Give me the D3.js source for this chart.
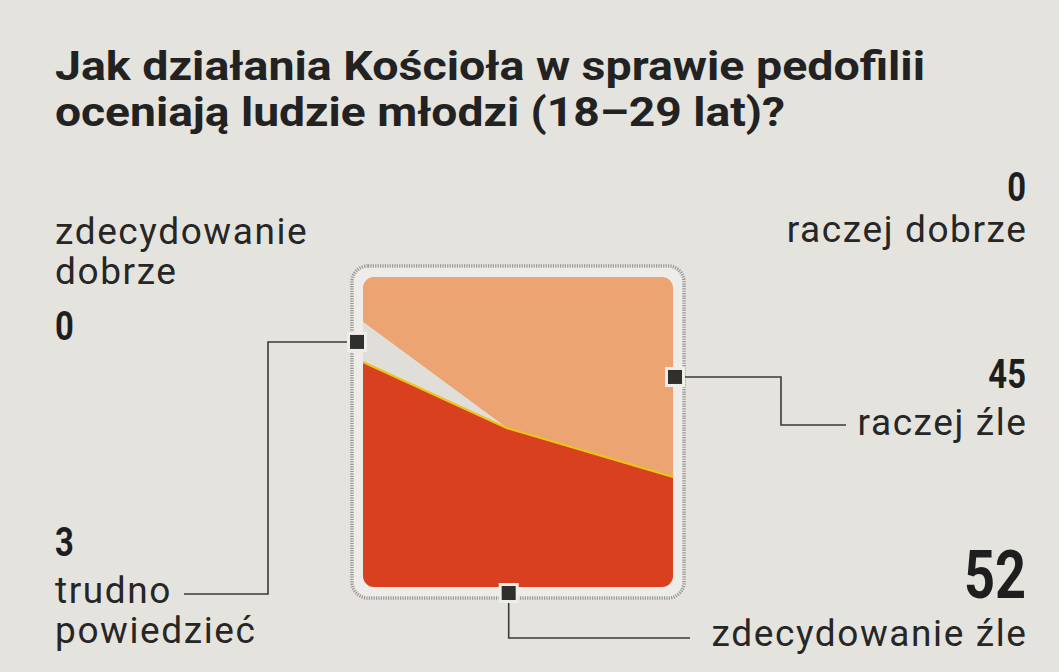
<!DOCTYPE html>
<html>
<head>
<meta charset="utf-8">
<script src="https://cdn.jsdelivr.net/npm/d3@7"></script>
<style>
  html, body { margin: 0; padding: 0; background: #e5e3de; }
  svg { display: block; }
</style>
</head>
<body>
<svg id="mainsvg" width="1059" height="672"></svg>
<script>
// dane: odsetki odpowiedzi
const categories = ["zdecydowanie dobrze", "raczej dobrze", "raczej źle", "zdecydowanie źle", "trudno powiedzieć"]
const values = [0, 0, 45, 52, 3]
const titleLines = ["Jak działania Kościoła w sprawie pedofilii", "oceniają ludzie młodzi (18–29 lat)?"]

const colors = {red: '#d8401f', orange: '#eba472', grey: '#dfded9', yellow: '#e9c51c'}

const svg = d3.select('#mainsvg')

// kwadrat z udziałami
let sq = {x0: 363, y0: 277, size: 310}
let x = d3.scaleLinear().domain([0, 1]).range([sq.x0, sq.x0 + sq.size])
let y = d3.scaleLinear().domain([0, 1]).range([sq.y0 + sq.size, sq.y0])

let share = d => values[categories.indexOf(d)] / 100
let redShare = share("zdecydowanie źle")
let greyShare = share("trudno powiedzieć")

// ksztalt granicy: wysokosc z lewej, z prawej, polozenie zalamania
let hL = 0.726, hR = 0.355, ax = 0.465
// pole pod lamana = redShare -> wysokosc w punkcie zalamania
let hA = 2 * redShare - ax * hL - (1 - ax) * hR
// trojkat "trudno powiedziec": 0.5 * g * ax = greyShare
let g = 2 * greyShare / ax

let line = d3.line().x(d => x(d[0])).y(d => y(d[1]))

// ramka
svg.append('rect')
  .attr('x', sq.x0 - 11).attr('y', sq.y0 - 11)
  .attr('width', sq.size + 22).attr('height', sq.size + 22)
  .attr('rx', 16)
  .attr('fill', '#efeeea')
  .attr('stroke', '#8d8d8a')
  .attr('stroke-width', 3.5)
  .attr('stroke-dasharray', '1.2,1.2')
  .attr('opacity', 0.85)

svg.append('clipPath').attr('id', 'sqclip')
  .append('rect')
  .attr('x', sq.x0).attr('y', sq.y0)
  .attr('width', sq.size).attr('height', sq.size)
  .attr('rx', 11)

const body = svg.append('g').attr('clip-path', 'url(#sqclip)')

const regions = [
  {name: "raczej źle", fill: colors.orange, pts: [[0, hL + g], [0, 1], [1, 1], [1, hR], [ax, hA]]},
  {name: "trudno powiedzieć", fill: colors.grey, pts: [[0, hL], [0, hL + g], [ax, hA]]},
  {name: "zdecydowanie źle", fill: colors.red, pts: [[0, 0], [0, hL], [ax, hA], [1, hR], [1, 0]]}
]
body.selectAll('path.region')
  .data(regions)
  .join('path')
  .attr('class', 'region')
  .attr('d', d => line(d.pts) + 'Z')
  .attr('fill', d => d.fill)

body.append('path')
  .attr('d', line([[0, hL], [ax, hA], [1, hR]]))
  .attr('fill', 'none')
  .attr('stroke', colors.yellow)
  .attr('stroke-width', 2.2)

// odnosniki
const leaders = [
  {pts: [[357, y(hL + g / 2)], [268, y(hL + g / 2)], [268, 594], [184, 594]], marker: [357, y(hL + g / 2)]},
  {pts: [[675, y((hR + 1) / 2)], [781, y((hR + 1) / 2)], [781, 425], [846, 425]], marker: [675, y((hR + 1) / 2)]},
  {pts: [[x(0.47), 593], [x(0.47), 638], [690, 638]], marker: [x(0.47), 593]}
]
svg.selectAll('path.leader')
  .data(leaders)
  .join('path')
  .attr('class', 'leader')
  .attr('d', d => d3.line()(d.pts))
  .attr('fill', 'none')
  .attr('stroke', '#3a3a3a')
  .attr('stroke-width', 1.6)

svg.selectAll('rect.halo')
  .data(leaders)
  .join('rect')
  .attr('class', 'halo')
  .attr('x', d => d.marker[0] - 10).attr('y', d => d.marker[1] - 10)
  .attr('width', 20).attr('height', 20)
  .attr('fill', '#eeede8')
svg.selectAll('rect.marker')
  .data(leaders)
  .join('rect')
  .attr('class', 'marker')
  .attr('x', d => d.marker[0] - 7).attr('y', d => d.marker[1] - 7)
  .attr('width', 14).attr('height', 14)
  .attr('fill', '#2f2f2e')

// tytul
const titleFont = "'Roboto', 'Liberation Sans', sans-serif"
svg.selectAll('text.title')
  .data(titleLines)
  .join('text')
  .attr('class', 'title')
  .attr('x', 55)
  .attr('y', (d, i) => 80 + i * 46)
  .attr('font-family', titleFont)
  .attr('font-weight', 700)
  .attr('font-size', 41)
  .attr('fill', '#222')
  .attr('textLength', (d, i) => i === 0 ? 870 : 730)
  .attr('lengthAdjust', 'spacingAndGlyphs')
  .text(d => d)

// etykiety
const labelFont = "'Roboto', 'Liberation Sans', sans-serif"
const labels = [
  {cat: "zdecydowanie dobrze", lines: ["zdecydowanie", "dobrze"], x: 55, anchor: 'start', numY: 340, y: 244, numSize: 40},
  {cat: "raczej dobrze", lines: ["raczej dobrze"], x: 1026, anchor: 'end', numY: 201, y: 242, numSize: 40},
  {cat: "raczej źle", lines: ["raczej źle"], x: 1026, anchor: 'end', numY: 388, y: 435, numSize: 40},
  {cat: "trudno powiedzieć", lines: ["trudno", "powiedzieć"], x: 55, anchor: 'start', numY: 556, y: 603, numSize: 40},
  {cat: "zdecydowanie źle", lines: ["zdecydowanie źle"], x: 1026, anchor: 'end', numY: 598, y: 646, numSize: 66}
]

const lg = svg.selectAll('g.label')
  .data(labels)
  .join('g')
  .attr('class', 'label')

lg.append('text')
  .attr('x', d => d.x)
  .attr('y', d => d.numY)
  .attr('text-anchor', d => d.anchor)
  .attr('font-family', titleFont)
  .attr('font-weight', 700)
  .attr('font-size', d => d.numSize)
  .attr('fill', '#1e1e1e')
  .attr('transform', d => `translate(${d.x},${d.numY}) scale(0.82,1) translate(${-d.x},${-d.numY})`)
  .text(d => values[categories.indexOf(d.cat)])

lg.each(function (d) {
  d3.select(this).selectAll('text.lab')
    .data(d.lines)
    .join('text')
    .attr('class', 'lab')
    .attr('x', d.anchor === 'end' ? d.x + 1.5 : d.x)
    .attr('y', (t, i) => d.y + i * 40)
    .attr('text-anchor', d.anchor)
    .attr('font-family', labelFont)
    .attr('font-size', 37)
    .attr('letter-spacing', 1.6)
    .attr('fill', '#262626')
    .text(t => t)
})
</script>
</body>
</html>
